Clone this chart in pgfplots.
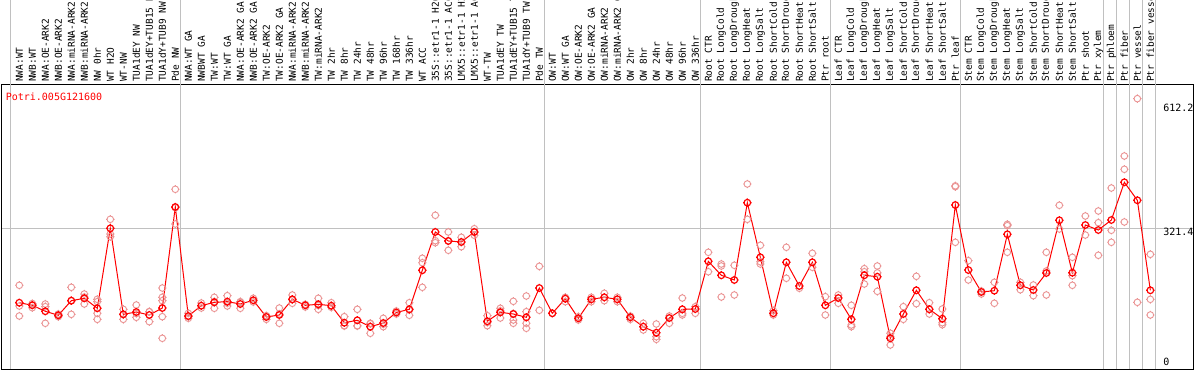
\documentclass[border=0pt]{standalone}
\usepackage{pgfplots}
\pgfplotsset{compat=1.18}
\usepackage{pgfplotstable}
\usepackage{fontspec}
\setmainfont{DejaVu Sans Mono}
\setmonofont{DejaVu Sans Mono}
\newfontfamily\monofont{DejaVu Sans Mono}
\definecolor{gridgray}{RGB}{192,192,192}
\definecolor{reppink}{RGB}{234,146,146}
\definecolor{meanred}{RGB}{255,0,0}

\pgfdeclareplotmark{gc}{%
  \pgfpathcircle{\pgfpointorigin}{\pgfplotmarksize}%
  \pgfpathmoveto{\pgfqpoint{0pt}{\pgfplotmarksize}}\pgfpathlineto{\pgfqpoint{0pt}{\dimexpr\pgfplotmarksize+0.9pt\relax}}%
  \pgfpathmoveto{\pgfqpoint{0pt}{-\pgfplotmarksize}}\pgfpathlineto{\pgfqpoint{0pt}{\dimexpr-\pgfplotmarksize-0.9pt\relax}}%
  \pgfpathmoveto{\pgfqpoint{\pgfplotmarksize}{0pt}}\pgfpathlineto{\pgfqpoint{\dimexpr\pgfplotmarksize+0.9pt\relax}{0pt}}%
  \pgfpathmoveto{\pgfqpoint{-\pgfplotmarksize}{0pt}}\pgfpathlineto{\pgfqpoint{\dimexpr-\pgfplotmarksize-0.9pt\relax}{0pt}}%
  \pgfusepathqstroke}

\pgfplotstableread{
x y
0 155.2
1 149.4
2 136.0
3 127.0
4 159.7
5 165.1
6 142.7
7 321.8
8 129.2
9 134.4
10 127.7
11 143.3
12 369.6
13 125.4
14 148.5
15 156.1
16 157.5
17 152.3
18 160.6
19 123.2
20 127.7
21 162.8
22 149.4
23 151.6
24 148.5
25 110.4
26 115.8
27 101.5
28 109.7
29 133.3
30 140.4
31 227.8
32 313.6
33 293.4
34 291.2
35 313.6
36 113.6
37 133.7
38 129.9
39 122.5
40 188.1
41 131.5
42 164.2
43 120.3
44 162.8
45 167.3
46 162.8
47 122.5
48 101.5
49 88.0
50 120.9
51 140.4
52 141.1
53 247.9
54 216.6
55 206.1
56 379.2
57 256.9
58 131.5
59 245.7
60 192.6
61 245.7
62 149.4
63 165.7
64 118.0
65 216.6
66 213.4
67 75.5
68 129.9
69 183.0
70 140.4
71 119.4
72 374.0
73 228.4
74 179.2
75 182.1
76 308.4
77 194.2
78 183.7
79 221.7
80 339.8
81 222.4
82 329.2
83 318.0
84 340.4
85 424.9
86 384.6
87 183.0
}\meantable

\pgfplotstableread{
x y
0 194.2
0 147.8
0 125.4
1 144.0
1 153.4
1 150.5
2 152.3
2 146.3
2 109.1
3 129.9
3 123.9
3 127.5
4 189.7
4 129.2
4 160.0
5 174.7
5 152.3
5 168.0
6 162.8
6 157.5
6 131.5
6 118.0
7 342.0
7 309.1
7 303.0
8 140.4
8 118.0
8 129.0
9 150.1
9 122.5
9 131.0
10 135.1
10 112.7
10 135.0
11 188.1
11 167.3
11 159.7
11 123.9
11 75.5
12 409.2
12 331.5
12 368.0
13 131.5
13 120.3
13 124.0
14 154.5
14 143.3
15 167.3
15 142.7
15 158.0
16 170.9
16 147.8
16 154.0
17 157.5
17 142.7
17 156.0
18 165.1
18 156.8
19 125.4
19 118.0
19 126.0
20 143.3
20 109.1
20 130.0
21 172.5
21 153.9
21 162.0
22 151.6
22 145.6
23 165.1
23 140.4
23 149.0
24 155.2
24 144.9
25 123.9
25 103.0
25 104.0
26 140.4
26 103.7
26 103.0
27 109.1
27 86.7
27 108.0
28 120.3
28 101.5
28 107.0
29 136.6
29 129.9
30 155.2
30 127.0
30 139.0
31 254.7
31 244.8
31 189.7
32 351.0
32 294.1
32 289.6
33 313.6
33 272.6
33 294.0
34 301.7
34 280.6
34 291.0
35 320.9
35 306.2
35 313.0
36 126.1
36 103.7
36 111.0
37 142.7
37 120.9
37 137.0
38 158.3
38 116.5
38 109.1
38 131.0
39 170.2
39 135.1
39 109.1
39 97.9
40 236.7
40 138.2
41 131.5
42 167.3
42 157.5
43 123.9
43 116.5
44 167.3
44 157.5
45 176.3
45 159.7
46 167.3
46 157.5
47 125.4
47 118.0
48 109.1
48 94.1
49 107.5
49 79.1
49 73.2
50 125.4
50 109.1
51 165.7
51 131.5
51 127.7
52 146.3
52 131.5
53 268.1
53 224.6
54 241.9
54 237.4
54 168.0
55 239.0
55 172.5
56 421.1
56 342.0
57 283.8
57 247.0
57 241.9
58 137.3
58 127.7
59 279.3
59 209.9
60 187.5
61 265.9
61 234.5
62 168.7
62 127.7
63 172.5
63 153.9
64 149.4
64 105.3
64 101.5
65 231.4
65 224.6
65 197.1
66 237.4
66 180.7
66 222.0
67 86.7
67 60.5
67 79.0
68 146.3
68 118.0
69 214.3
69 153.0
70 155.2
70 129.9
71 141.1
71 110.4
71 105.9
72 415.0
72 417.0
72 290.5
73 249.3
73 206.1
74 181.4
74 174.7
75 200.9
75 153.9
76 330.8
76 327.7
76 268.1
77 200.9
77 184.3
78 194.9
78 170.9
79 268.1
79 226.2
79 172.5
80 373.4
80 320.3
81 256.9
81 215.7
81 194.2
82 349.4
82 306.8
83 360.6
83 334.4
83 261.4
84 412.1
84 317.4
84 290.5
85 483.8
85 454.0
85 336.0
86 612.2
86 156.1
87 263.6
87 162.8
87 127.7
}\reptable

\begin{document}
\begin{tikzpicture}
\begin{axis}[
  at={(0pt,0pt)}, anchor=south west,
  scale only axis, width=1192pt, height=284pt,
  xmin=-1.4077, xmax=90.285, ymin=6.72, ymax=642.8,
  axis line style={black, line width=1pt},
  clip=false,
  xtick={0,...,87},
  xticklabels={NWA:WT,NWB:WT,NWA:OE-ARK2,NWB:OE-ARK2,NWA:miRNA-ARK2,NWB:miRNA-ARK2,NW 0hr,WT H2O,WT-NW,TUA1dEY NW,TUA1dEY+TUB15 NW,TUA1dY+TUB9 NW,Pde NW,
    NWA:WT GA,NWBWT GA,TW:WT,TW:WT GA,NWA:OE-ARK2 GA,NWB:OE-ARK2 GA,TW:OE-ARK2,TW:OE-ARK2 GA,NWA:miRNA-ARK2 GA,NWB:miRNA-ARK2 GA,TW:miRNA-ARK2,TW 2hr,TW 8hr,TW 24hr,TW 48hr,TW 96hr,TW 168hr,TW 336hr,WT ACC,35S::etr1-1 H2O,35S::etr1-1 ACC,LMX5::etr1-1 H2O,LMX5::etr1-1 ACC,WT-TW,TUA1dEY TW,TUA1dEY+TUB15 TW,TUA1dY+TUB9 TW,Pde TW,
    OW:WT,OW:WT GA,OW:OE-ARK2,OW:OE-ARK2 GA,OW:miRNA-ARK2,OW:miRNA-ARK2 GA,OW 2hr,OW 8hr,OW 24hr,OW 48hr,OW 96hr,OW 336hr,
    Root CTR,Root LongCold,Root LongDrought,Root LongHeat,Root LongSalt,Root ShortCold,Root ShortDrought,Root ShortHeat,Root ShortSalt,Ptr root,
    Leaf CTR,Leaf LongCold,Leaf LongDrought,Leaf LongHeat,Leaf LongSalt,Leaf ShortCold,Leaf ShortDrought,Leaf ShortHeat,Leaf ShortSalt,Ptr leaf,
    Stem CTR,Stem LongCold,Stem LongDrought,Stem LongHeat,Stem LongSalt,Stem ShortCold,Stem ShortDrought,Stem ShortHeat,Stem ShortSalt,Ptr shoot,
    Ptr xylem,Ptr phloem,Ptr fiber,Ptr vessel,Ptr fiber vessel},
  xticklabel pos=right,
  xtick style={draw=none},
  xticklabel style={rotate=90, anchor=west, inner sep=0pt, font=\monofont\fontsize{9.5}{10}\selectfont},
  xticklabel shift=3pt,
  ytick={321.4}, yticklabels={},
  ytick style={draw=none},
  ymajorgrids,
  grid style={gridgray, line width=1pt},
]
% group separators
\draw[gridgray, line width=1pt] (axis cs:-0.66,6.72) -- (axis cs:-0.66,845);
\draw[gridgray, line width=1pt] (axis cs:12.385,6.72) -- (axis cs:12.385,845);
\draw[gridgray, line width=1pt] (axis cs:40.385,6.72) -- (axis cs:40.385,845);
\draw[gridgray, line width=1pt] (axis cs:52.385,6.72) -- (axis cs:52.385,845);
\draw[gridgray, line width=1pt] (axis cs:62.385,6.72) -- (axis cs:62.385,845);
\draw[gridgray, line width=1pt] (axis cs:72.385,6.72) -- (axis cs:72.385,845);
\draw[gridgray, line width=1pt] (axis cs:83.385,6.72) -- (axis cs:83.385,845);
\draw[gridgray, line width=1pt] (axis cs:84.385,6.72) -- (axis cs:84.385,845);
\draw[gridgray, line width=1pt] (axis cs:85.385,6.72) -- (axis cs:85.385,845);
\draw[gridgray, line width=1pt] (axis cs:86.385,6.72) -- (axis cs:86.385,845);
\draw[gridgray, line width=1pt] (axis cs:87.385,6.72) -- (axis cs:87.385,845);

\addplot[only marks, mark=gc, mark size=3.3pt, color=reppink, mark options={line width=0.9pt}] table[x=x,y=y] {\reptable};
\addplot[color=meanred, line width=1pt, mark=gc, mark size=3.3pt, mark options={line width=1.2pt}] table[x=x,y=y] {\meantable};

\node[anchor=west, inner sep=0pt, text=meanred, font=\monofont\fontsize{10}{12}\selectfont] at (axis cs:-1.05,615.9) {Potri.005G121600};
\node[anchor=west, inner sep=0pt, font=\monofont\fontsize{10}{12}\selectfont] at (axis cs:87.98,591.3) {612.2};
\node[anchor=west, inner sep=0pt, font=\monofont\fontsize{10}{12}\selectfont] at (axis cs:87.98,313.6) {321.4};
\node[anchor=west, inner sep=0pt, font=\monofont\fontsize{10}{12}\selectfont] at (axis cs:87.98,23.1) {0};
\end{axis}
\pgfresetboundingbox
\path[use as bounding box] (-1pt,-1pt) rectangle (1193pt,369pt);
\end{tikzpicture}
\end{document}
